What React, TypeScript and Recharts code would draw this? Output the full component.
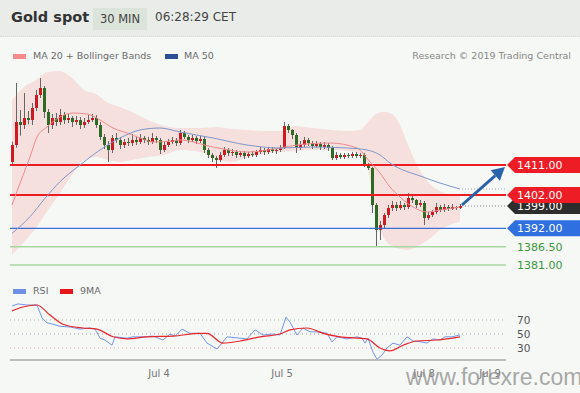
import React from "react";
import { ComposedChart, Bar, Line, Area, XAxis, YAxis, ReferenceLine } from "recharts";

const FONT = "'DejaVu Sans', Verdana, sans-serif";
const UP = "#cc1b22";
const DOWN = "#2d6b25";
const WICK = "#666";
const ARROW = "#2a62aa";

const SLOTS = 124; // candle slots, the last ones stay empty
const FIRST_OPEN = 1411.9;

// 30 min candles (open = previous close)
const closes = [
  1417.0, 1423.9, 1423.0, 1425.1, 1424.5, 1428.1, 1432.0, 1434.1, 1426.9, 1423.0,
  1425.1, 1423.9, 1426.0, 1424.5, 1425.1, 1423.9, 1424.5, 1423.0, 1423.9, 1424.5,
  1425.1, 1423.0, 1419.4, 1417.0, 1415.5, 1419.1, 1418.5, 1417.0, 1417.9, 1417.6,
  1418.5, 1417.9, 1419.1, 1418.5, 1417.9, 1419.1, 1418.5, 1415.5, 1417.0, 1417.9,
  1418.5, 1417.6, 1420.6, 1419.4, 1418.5, 1419.1, 1418.2, 1418.8, 1415.5, 1414.0,
  1413.1, 1412.5, 1414.0, 1415.5, 1414.6, 1414.9, 1414.0, 1414.6, 1413.7, 1414.3,
  1414.0, 1414.9, 1415.5, 1414.9, 1415.8, 1415.2, 1415.5, 1416.1, 1422.7, 1421.5,
  1420.0, 1416.1, 1417.0, 1418.5, 1417.6, 1416.7, 1417.3, 1416.4, 1417.0, 1416.1,
  1413.1, 1414.0, 1413.4, 1414.0, 1413.7, 1414.3, 1413.7, 1414.0, 1411.0, 1410.1,
  1399.0, 1391.5, 1393.0, 1396.0, 1398.1, 1399.0, 1398.1, 1399.0, 1398.4, 1401.1,
  1400.5, 1399.0, 1399.6, 1395.1, 1396.0, 1396.9, 1398.4, 1397.5, 1398.4, 1397.8,
  1398.4, 1398.1, 1398.7,
];
const highs = [
  1418.0, 1435.6, 1427.5, 1432.6, 1427.2, 1429.6, 1433.5, 1437.1, 1434.7, 1427.8,
  1426.3, 1426.6, 1427.8, 1426.9, 1426.3, 1425.7, 1425.7, 1425.4, 1425.1, 1426.0,
  1426.3, 1426.0, 1423.9, 1420.3, 1418.2, 1420.0, 1420.6, 1419.4, 1418.8, 1419.1,
  1420.3, 1419.4, 1420.3, 1419.7, 1419.4, 1420.6, 1419.7, 1419.1, 1417.9, 1418.8,
  1419.4, 1419.1, 1421.5, 1421.2, 1420.0, 1420.0, 1419.7, 1419.7, 1419.4, 1416.1,
  1414.6, 1413.7, 1414.9, 1416.4, 1416.1, 1415.8, 1415.5, 1415.2, 1415.2, 1414.9,
  1415.2, 1415.5, 1416.4, 1416.1, 1416.4, 1416.4, 1416.1, 1417.0, 1423.9, 1423.3,
  1421.8, 1420.6, 1418.2, 1419.4, 1419.1, 1418.2, 1418.2, 1417.9, 1417.9, 1417.6,
  1416.7, 1414.9, 1414.6, 1414.6, 1414.6, 1414.9, 1414.9, 1414.6, 1414.6, 1411.6,
  1410.4, 1399.6, 1394.2, 1396.6, 1399.0, 1400.2, 1399.9, 1400.2, 1399.6, 1402.6,
  1401.7, 1400.8, 1400.5, 1400.2, 1396.9, 1397.5, 1399.6, 1399.0, 1399.3, 1399.0,
  1399.3, 1398.7, 1399.3,
];
const lows = [
  1410.9, 1416.2, 1419.8, 1421.8, 1423.2, 1423.0, 1427.2, 1431.1, 1425.1, 1420.6,
  1421.8, 1422.7, 1423.0, 1423.3, 1423.6, 1422.4, 1423.0, 1421.8, 1422.1, 1423.3,
  1423.9, 1422.1, 1418.5, 1415.8, 1411.9, 1414.6, 1417.6, 1415.8, 1416.1, 1416.7,
  1416.7, 1417.0, 1417.3, 1417.6, 1417.0, 1417.3, 1417.6, 1414.3, 1414.9, 1416.4,
  1417.3, 1416.7, 1417.0, 1418.8, 1417.6, 1417.9, 1417.3, 1417.6, 1414.6, 1413.1,
  1411.9, 1410.1, 1411.9, 1413.4, 1413.7, 1413.7, 1413.1, 1413.4, 1412.8, 1413.1,
  1413.4, 1413.4, 1414.3, 1414.0, 1414.3, 1414.6, 1414.3, 1414.9, 1415.8, 1420.6,
  1418.8, 1414.6, 1415.5, 1416.4, 1416.7, 1415.8, 1416.1, 1415.5, 1415.8, 1415.2,
  1412.5, 1412.5, 1412.8, 1412.8, 1413.1, 1413.1, 1413.1, 1413.1, 1410.4, 1409.5,
  1396.6, 1386.4, 1388.5, 1392.1, 1395.1, 1397.2, 1397.2, 1397.5, 1397.5, 1397.8,
  1399.6, 1398.1, 1398.4, 1393.0, 1394.5, 1395.4, 1396.3, 1396.9, 1396.9, 1397.2,
  1397.5, 1397.5, 1397.8,
];

// Bollinger bands, read at these candle indexes
const bandIdx = [0, 3, 6, 9, 12, 15, 18, 21, 24, 27, 30, 34, 38, 42, 47, 51, 55, 59, 63, 67, 71, 75, 80, 84, 87, 89, 91, 93, 95, 97, 99, 101, 104, 107, 110, 112];
const bbUpper = [1430.5, 1434.4, 1436.5, 1438.9, 1439.2, 1437.1, 1433.5, 1432.3, 1429.6, 1428.4, 1426.9, 1424.5, 1422.7, 1422.1, 1422.1, 1422.4, 1421.8, 1421.5, 1421.2, 1421.2, 1422.7, 1422.1, 1421.5, 1421.2, 1421.5, 1423.9, 1426.3, 1426.9, 1426.3, 1423.0, 1417.0, 1411.6, 1405.9, 1403.2, 1402.0, 1401.7];
const bbLower = [1384.0, 1387.9, 1392.1, 1397.5, 1402.6, 1408.0, 1412.5, 1413.4, 1412.5, 1411.9, 1412.5, 1413.4, 1414.0, 1415.5, 1414.9, 1412.5, 1411.9, 1413.4, 1414.3, 1414.9, 1415.2, 1415.5, 1415.5, 1415.2, 1414.3, 1409.5, 1396.0, 1389.1, 1386.7, 1385.8, 1385.5, 1386.4, 1388.5, 1391.5, 1393.3, 1393.9];

// [candle index, value]
const ma20: [number, number][] = [
  [0, 1399.0], [2.5, 1407.1], [4.5, 1413.4], [6.25, 1419.4], [8.75, 1422.4], [12, 1425.4],
  [15.25, 1426.6], [18.75, 1426.3], [22, 1424.5], [25.25, 1422.1], [28.75, 1420.6], [32, 1419.1],
  [35.25, 1417.9], [40.25, 1418.2], [42, 1418.5], [50.25, 1416.4], [58.75, 1414.9], [67, 1416.1],
  [71.25, 1417.0], [79.5, 1417.6], [86.25, 1416.1], [89.5, 1411.9], [92, 1408.6], [94.5, 1404.4],
  [97, 1401.4], [100.25, 1398.4], [103.75, 1396.9], [107, 1397.5], [112, 1398.4],
];
const ma50: [number, number][] = [
  [0, 1390.5], [4.5, 1395.5], [8.25, 1401.0], [12, 1406.0], [17, 1411.0], [22, 1415.5],
  [27, 1419.1], [32, 1421.5], [37, 1422.1], [42, 1420.9], [50.25, 1419.1], [58.75, 1417.0],
  [67, 1416.1], [75.25, 1416.4], [83.75, 1416.1], [88.75, 1415.5], [92, 1414.0], [94.5, 1411.6],
  [102.75, 1407.4], [107, 1405.6], [112, 1403.8],
];

const rsi: [number, number][] = [
  [0, 90], [1.5, 93], [3.75, 91.4], [6.25, 91.4], [7.5, 73], [8.75, 66], [10.25, 64], [12, 61],
  [14.5, 60], [17, 57], [19.5, 58.6], [20.75, 57], [22, 44], [23.25, 41.4], [25, 34], [25.75, 46],
  [28.75, 44], [30.25, 46], [32.75, 46], [35.25, 47], [37.75, 41.4], [39.5, 50], [40.75, 47],
  [42.5, 57], [44.5, 51], [47, 51], [48.75, 37], [51.25, 28.6], [52.5, 37], [53.75, 46], [57, 44],
  [58.75, 43], [60.75, 56], [62.75, 48.6], [65.25, 50], [67, 48.6], [68.5, 74], [69.5, 67],
  [71.25, 48.6], [72.75, 58.6], [74.5, 53], [77, 53], [78.75, 51], [80, 38.6], [81.25, 46],
  [83.75, 43], [86.25, 46], [87.5, 44], [88.25, 37], [89, 44], [90.25, 24], [91.25, 14], [92.5, 20],
  [93.75, 30], [95.25, 37], [97, 34], [98.75, 46], [100.25, 40], [102.5, 38.6], [103.75, 37],
  [105.25, 43], [107, 41.4], [108.25, 46], [110, 46], [112, 48.6],
];
const rsi9: [number, number][] = [
  [0, 83], [2.75, 88.6], [6.25, 91.4], [9.5, 77], [12.75, 64], [17.75, 58.6], [21.25, 57],
  [25.25, 46], [28.75, 43], [33.75, 46], [40.25, 47], [47, 51], [48.75, 51], [52.75, 37], [57, 40],
  [62, 46], [67, 50], [69.5, 56], [73.75, 58.6], [77.75, 51], [82, 46], [88.75, 43], [92, 30],
  [94.5, 26], [97.75, 34], [101.25, 40], [106.25, 41.4], [112, 46],
];

const dateTicks = [36.75, 67.5, 103, 119.5];
const dateLabels = ["Jul 4", "Jul 5", "Jul 8", "Jul 9"];

const candleRows = Array.from({ length: SLOTS }, (_, i) => {
  if (i >= closes.length) return { i, range: null };
  const o = i === 0 ? FIRST_OPEN : closes[i - 1];
  return { i, o, h: highs[i], l: lows[i], c: closes[i], range: [lows[i], highs[i]] };
});
const bandRows = bandIdx.map((i, k) => ({ i, band: [bbLower[k], bbUpper[k]] }));
const toRows = (pts: [number, number][]) => pts.map(([i, v]) => ({ i, v }));

function Candle(props: any) {
  const { x, y, width, height, payload } = props;
  if (!payload || payload.h == null) return null;
  const { o, h, l, c } = payload;
  const hgt = Math.abs(height);
  const ratio = h - l > 0 ? hgt / (h - l) : 0;
  const top = y + (h - Math.max(o, c)) * ratio;
  const bot = y + (h - Math.min(o, c)) * ratio;
  const bx = Math.round(x);
  const cx = bx + 1;
  return (
    <g>
      <rect x={cx} y={y} width={1} height={hgt} fill={WICK} />
      <rect x={bx} y={top} width={3} height={Math.max(1, bot - top)} fill={c >= o ? UP : DOWN} />
    </g>
  );
}

const tag = (bg: string | null, text: string, color: string) => (p: any) => {
  const vb = p.viewBox;
  const x0 = vb.x + vb.width + 1;
  const y = vb.y;
  return (
    <g>
      {bg && (
        <path d={`M${x0} ${y} L${x0 + 8} ${y - 8} L${x0 + 74} ${y - 8} L${x0 + 74} ${y + 8} L${x0 + 8} ${y + 8} Z`} fill={bg} />
      )}
      <text x={x0 + 10} y={y + 4} fill={color} fontSize={11} fontFamily={FONT}>
        {text}
      </text>
    </g>
  );
};

const rsiLabel = (text: string) => (p: any) => {
  const vb = p.viewBox;
  return (
    <text x={vb.x + vb.width + 11} y={vb.y + 4} fill="#555" fontSize={10.5} fontFamily={FONT}>
      {text}
    </text>
  );
};

function Arrow(p: any) {
  const { x1, y1, x2, y2 } = p;
  const dx = x2 - x1;
  const dy = y2 - y1;
  const len = Math.hypot(dx, dy) || 1;
  const ux = dx / len;
  const uy = dy / len;
  const hl = 13;
  const hw = 7;
  const bx = x2 - ux * hl;
  const by = y2 - uy * hl;
  return (
    <g>
      <line x1={x1} y1={y1} x2={bx} y2={by} stroke={ARROW} strokeWidth={3} />
      <polygon points={`${x2},${y2} ${bx - uy * hw},${by + ux * hw} ${bx + uy * hw},${by - ux * hw}`} fill={ARROW} />
    </g>
  );
}

const legendText: React.CSSProperties = { position: "absolute", fontSize: 9.5, color: "#6b6b6b", whiteSpace: "nowrap" };
const swatch = (left: number, top: number, color: string): React.CSSProperties => ({
  position: "absolute", left, top, width: 13, height: 5, background: color,
});

export default function App() {
  return (
    <div style={{ position: "relative", width: 580, height: 393, background: "#f6f8f6", overflow: "hidden", fontFamily: FONT }}>
      <style>{"body{margin:0}"}</style>

      {/* header */}
      <div style={{ position: "absolute", left: 0, top: 0, width: 580, height: 36, background: "#e9ece9", borderBottom: "1px dotted #d5dad5" }} />
      <div style={{ position: "absolute", left: 11, top: 9, fontSize: 14.5, fontWeight: "bold", color: "#333" }}>Gold spot</div>
      <div style={{ position: "absolute", left: 93, top: 8, width: 54, height: 22, background: "#dce3db", color: "#444", fontSize: 11.5, lineHeight: "22px", textAlign: "center" }}>30 MIN</div>
      <div style={{ position: "absolute", left: 155, top: 10, fontSize: 12, color: "#444" }}>06:28:29 CET</div>

      {/* legends */}
      <div style={swatch(13, 54, "#f58b8b")} />
      <div style={{ ...legendText, left: 33, top: 50 }}>MA 20 + Bollinger Bands</div>
      <div style={swatch(165, 54, "#2c4f95")} />
      <div style={{ ...legendText, left: 184, top: 50 }}>MA 50</div>
      <div style={{ ...legendText, right: 9, top: 50, color: "#888" }}>Research © 2019 Trading Central</div>

      <div style={swatch(13, 289, "#6e90e6")} />
      <div style={{ ...legendText, left: 33, top: 285 }}>RSI</div>
      <div style={swatch(60, 289, "#e8151b")} />
      <div style={{ ...legendText, left: 80, top: 285 }}>9MA</div>

      {/* price chart */}
      <div style={{ position: "absolute", left: 0, top: 0 }}>
        <ComposedChart width={580} height={280} data={candleRows} margin={{ top: 68, right: 74, bottom: 2, left: 10 }}>
          <XAxis xAxisId="cat" dataKey="i" type="category" hide />
          <XAxis xAxisId="num" dataKey="i" type="number" domain={[-0.5, SLOTS - 0.5]} hide allowDataOverflow />
          <YAxis domain={[1377.1, 1440.1]} hide allowDataOverflow />
          <Area xAxisId="num" data={bandRows} dataKey="band" type="monotone" fill="#f7b9b9" fillOpacity={0.38} stroke="none" isAnimationActive={false} />
          <ReferenceLine xAxisId="num" y={1386.5} stroke="#a8d6a0" strokeWidth={1.5} label={tag(null, "1386.50", "#3a973a")} />
          <ReferenceLine xAxisId="num" y={1381} stroke="#a8d6a0" strokeWidth={1.5} label={tag(null, "1381.00", "#3a973a")} />
          <ReferenceLine xAxisId="num" y={1392} stroke="#3b6fd6" strokeWidth={1.2} label={tag("#2f6fe0", "1392.00", "#fff")} />
          <ReferenceLine xAxisId="num" segment={[{ x: 112.5, y: 1403.8 }, { x: SLOTS - 0.5, y: 1403.8 }]} stroke="#9aaac4" strokeDasharray="1 2" />
          <ReferenceLine xAxisId="num" segment={[{ x: 112.5, y: 1398.7 }, { x: SLOTS - 0.5, y: 1398.7 }]} stroke="#888" strokeDasharray="1 2" label={tag("#2d2d2d", "1399.00", "#fff")} />
          <ReferenceLine xAxisId="num" y={1402} stroke="#ee1c25" strokeWidth={2} label={tag("#ee1c25", "1402.00", "#fff")} />
          <ReferenceLine xAxisId="num" y={1411} stroke="#ee1c25" strokeWidth={2} label={tag("#ee1c25", "1411.00", "#fff")} />
          <Bar xAxisId="cat" dataKey="range" barSize={3} shape={<Candle />} isAnimationActive={false} />
          <Line xAxisId="num" data={toRows(ma20)} dataKey="v" type="monotone" stroke="#f08a8a" strokeWidth={1} dot={false} isAnimationActive={false} />
          <Line xAxisId="num" data={toRows(ma50)} dataKey="v" type="monotone" stroke="#7f97cc" strokeWidth={1} dot={false} isAnimationActive={false} />
          <ReferenceLine xAxisId="num" segment={[{ x: 112.5, y: 1399.0 }, { x: 123.25, y: 1410.4 }]} ifOverflow="visible" shape={Arrow} />
        </ComposedChart>
      </div>

      {/* RSI */}
      <div style={{ position: "absolute", left: 0, top: 290 }}>
        <ComposedChart width={580} height={100} margin={{ top: 9, right: 74, bottom: 0, left: 10 }}>
          <XAxis
            dataKey="i"
            type="number"
            domain={[-0.5, SLOTS - 0.5]}
            ticks={dateTicks}
            interval={0}
            tickFormatter={(v: number) => dateLabels[dateTicks.indexOf(v)] ?? ""}
            axisLine={{ stroke: "#aaa", strokeWidth: 1.5 }}
            tickLine={false}
            tickMargin={4}
            height={30}
            tick={{ fill: "#777", fontSize: 10, fontFamily: FONT }}
            allowDataOverflow
          />
          <YAxis domain={[12.857, 100]} hide allowDataOverflow />
          <ReferenceLine y={70} stroke="#9cc79c" strokeDasharray="1 3" label={rsiLabel("70")} />
          <ReferenceLine y={50} stroke="#9aa5b5" strokeDasharray="1 3" label={rsiLabel("50")} />
          <ReferenceLine y={30} stroke="#e8a0a0" strokeDasharray="1 3" label={rsiLabel("30")} />
          <Line data={toRows(rsi)} dataKey="v" type="linear" stroke="#7396e8" strokeWidth={1} dot={false} isAnimationActive={false} />
          <Line data={toRows(rsi9)} dataKey="v" type="monotone" stroke="#e8262b" strokeWidth={1.2} dot={false} isAnimationActive={false} />
        </ComposedChart>
      </div>

      <div style={{ position: "absolute", left: 406, top: 364, fontSize: 23, fontFamily: "'Liberation Sans', Arial, sans-serif", color: "rgba(140,140,140,0.75)", whiteSpace: "nowrap" }}>
        www.forexre.com
      </div>
    </div>
  );
}
